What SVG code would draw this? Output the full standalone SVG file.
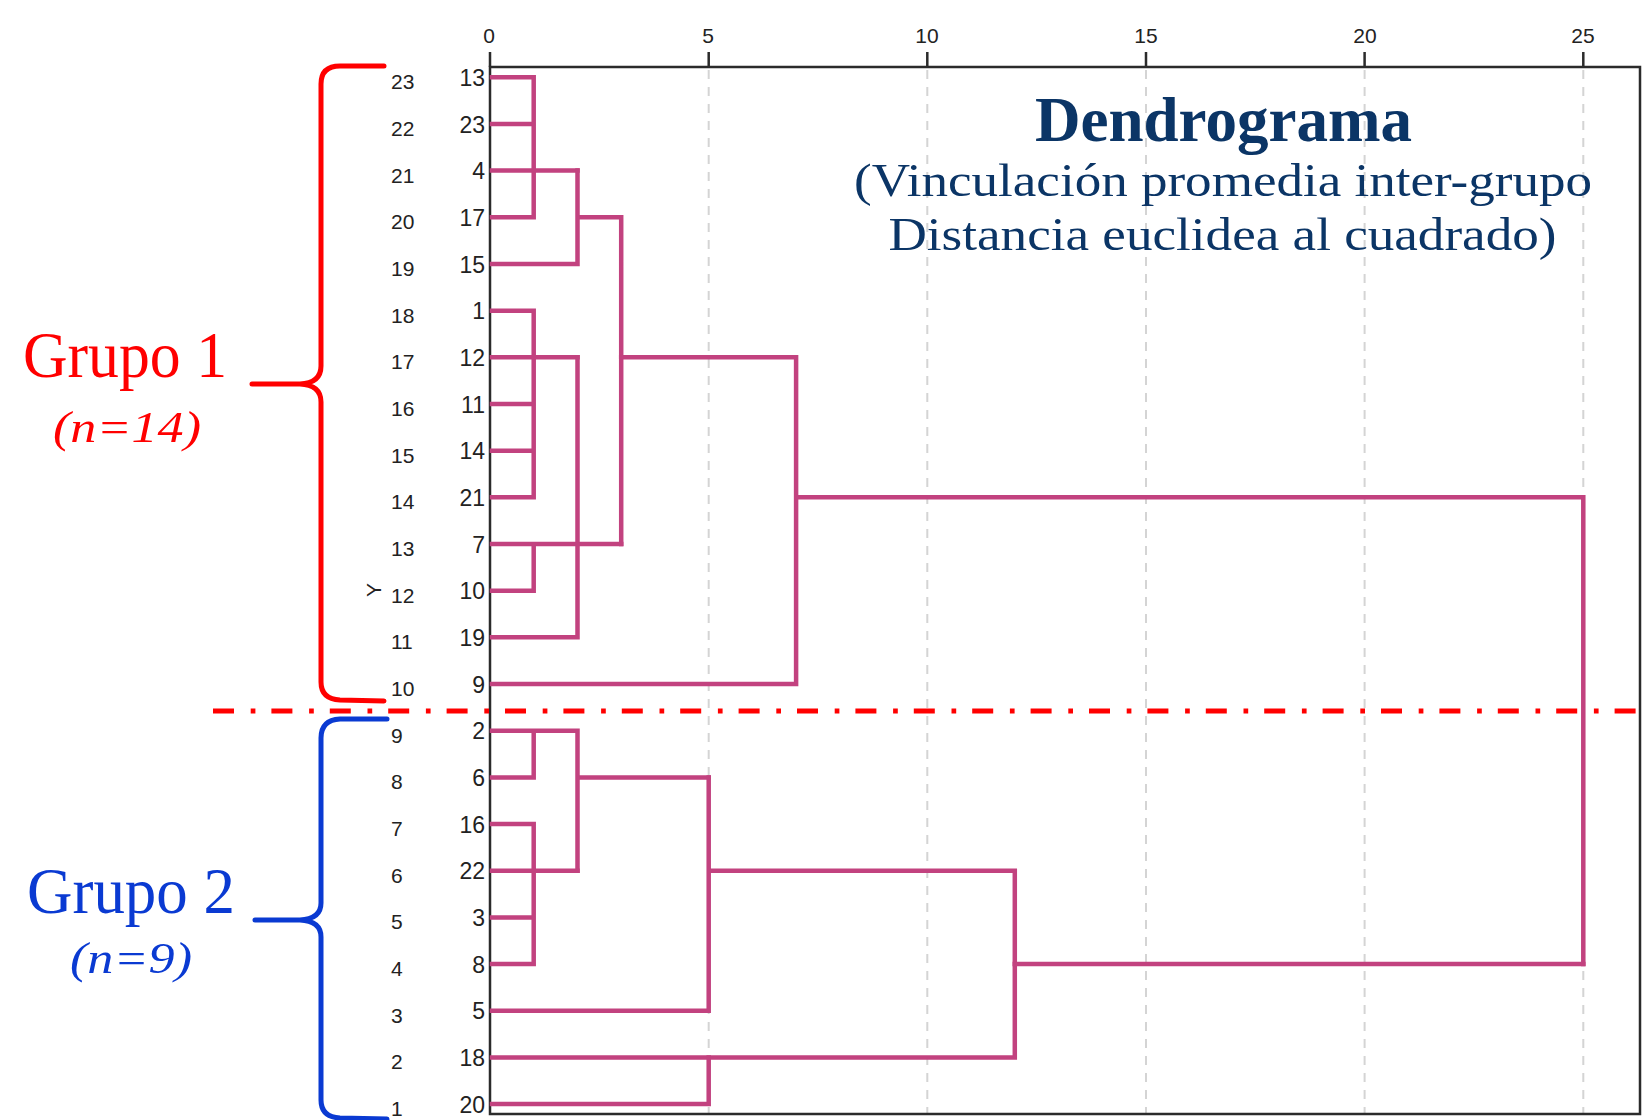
<svg xmlns="http://www.w3.org/2000/svg" width="1642" height="1120" viewBox="0 0 1642 1120">
<style>
.tick{font-family:"Liberation Sans",Arial,sans-serif;font-size:21px;fill:#222;text-anchor:middle}
.case{font-family:"Liberation Sans",Arial,sans-serif;font-size:23px;fill:#222;text-anchor:end}
.ord{font-family:"Liberation Sans",Arial,sans-serif;font-size:21px;fill:#222}
.grid{stroke:#d4d4d4;stroke-width:2;stroke-dasharray:9 8;fill:none}
.ax{stroke:#2b2b2b;stroke-width:2.5;fill:none}
.dg{stroke:#c2427f;stroke-width:4.5;fill:none;stroke-linecap:square;stroke-linejoin:miter}
.ttl{font-family:"Liberation Serif","Times New Roman",serif;fill:#0b3566;text-anchor:start}
.brace{fill:none;stroke-width:5;stroke-linecap:round;stroke-linejoin:round}
.grp{font-family:"Liberation Serif","Times New Roman",serif}
</style>
<rect width="1642" height="1120" fill="#ffffff"/>

<g id="grid">
<line class="grid" x1="708.7" y1="70" x2="708.7" y2="1113"/>
<line class="grid" x1="927.3" y1="70" x2="927.3" y2="1113"/>
<line class="grid" x1="1146" y1="70" x2="1146" y2="1113"/>
<line class="grid" x1="1364.6" y1="70" x2="1364.6" y2="1113"/>
<line class="grid" x1="1583.3" y1="70" x2="1583.3" y2="1113"/>
</g>

<g id="axis">
<path class="ax" d="M490,67 H1640 V1114 H490 Z"/>
<path class="ax" d="M490,52 V67 M708.7,52 V67 M927.3,52 V67 M1146,52 V67 M1364.6,52 V67 M1583.3,52 V67"/>
<text class="tick" x="489" y="43">0</text>
<text class="tick" x="708" y="43">5</text>
<text class="tick" x="927" y="43">10</text>
<text class="tick" x="1146" y="43">15</text>
<text class="tick" x="1365" y="43">20</text>
<text class="tick" x="1583" y="43">25</text>
<text class="ord" transform="translate(381,590) rotate(-90)" text-anchor="middle" font-size="23">Y</text>
</g>

<g id="title">
<text class="ttl" x="1035" y="141" font-size="63" font-weight="bold" textLength="377" lengthAdjust="spacingAndGlyphs">Dendrograma</text>
<text class="ttl" x="854" y="196" font-size="46" textLength="738" lengthAdjust="spacingAndGlyphs">(Vinculación promedia inter-grupo</text>
<text class="ttl" x="888.5" y="250" font-size="46" textLength="668" lengthAdjust="spacingAndGlyphs">Distancia euclidea al cuadrado)</text>
</g>

<g id="leaves">
<g id="leaf-13"><text class="ord" x="391" y="89">23</text><text class="case" x="485" y="86">13</text></g>
<g id="leaf-23"><text class="ord" x="391" y="136">22</text><text class="case" x="485" y="132.7">23</text></g>
<g id="leaf-4"><text class="ord" x="391" y="182.6">21</text><text class="case" x="485" y="179.3">4</text></g>
<g id="leaf-17"><text class="ord" x="391" y="229.3">20</text><text class="case" x="485" y="226">17</text></g>
<g id="leaf-15"><text class="ord" x="391" y="276">19</text><text class="case" x="485" y="272.7">15</text></g>
<g id="leaf-1"><text class="ord" x="391" y="322.7">18</text><text class="case" x="485" y="319.4">1</text></g>
<g id="leaf-12"><text class="ord" x="391" y="369.3">17</text><text class="case" x="485" y="366">12</text></g>
<g id="leaf-11"><text class="ord" x="391" y="416">16</text><text class="case" x="485" y="412.7">11</text></g>
<g id="leaf-14"><text class="ord" x="391" y="462.7">15</text><text class="case" x="485" y="459.4">14</text></g>
<g id="leaf-21"><text class="ord" x="391" y="509.3">14</text><text class="case" x="485" y="506">21</text></g>
<g id="leaf-7"><text class="ord" x="391" y="556">13</text><text class="case" x="485" y="552.7">7</text></g>
<g id="leaf-10"><text class="ord" x="391" y="602.7">12</text><text class="case" x="485" y="599.4">10</text></g>
<g id="leaf-19"><text class="ord" x="391" y="649.3">11</text><text class="case" x="485" y="646">19</text></g>
<g id="leaf-9"><text class="ord" x="391" y="696">10</text><text class="case" x="485" y="692.7">9</text></g>
<g id="leaf-2"><text class="ord" x="391" y="742.7">9</text><text class="case" x="485" y="739.4">2</text></g>
<g id="leaf-6"><text class="ord" x="391" y="789.4">8</text><text class="case" x="485" y="786.1">6</text></g>
<g id="leaf-16"><text class="ord" x="391" y="836">7</text><text class="case" x="485" y="832.7">16</text></g>
<g id="leaf-22"><text class="ord" x="391" y="882.7">6</text><text class="case" x="485" y="879.4">22</text></g>
<g id="leaf-3"><text class="ord" x="391" y="929.4">5</text><text class="case" x="485" y="926.1">3</text></g>
<g id="leaf-8"><text class="ord" x="391" y="976">4</text><text class="case" x="485" y="972.7">8</text></g>
<g id="leaf-5"><text class="ord" x="391" y="1022.7">3</text><text class="case" x="485" y="1019.4">5</text></g>
<g id="leaf-18"><text class="ord" x="391" y="1069.4">2</text><text class="case" x="485" y="1066.1">18</text></g>
<g id="leaf-20"><text class="ord" x="391" y="1116">1</text><text class="case" x="485" y="1112.7">20</text></g>
</g>

<g id="connectors">
<path class="dg" d="M492,77.3 H533.7 M492,124 H533.7 M492,170.6 H577.5 M492,217.3 H533.7 M533.7,77.3 V217.3"/>
<path class="dg" d="M492,264 H577.5 M577.5,170.6 V264 M577.5,217.3 H621.2 M621.2,217.3 V544"/>
<path class="dg" d="M492,310.7 H533.7 M492,357.3 H577.5 M492,404 H533.7 M492,450.7 H533.7 M492,497.3 H533.7 M533.7,310.7 V497.3"/>
<path class="dg" d="M577.5,357.3 V637.3 M492,637.3 H577.5 M492,544 H621.2 M492,590.7 H533.7 M533.7,544 V590.7"/>
<path class="dg" d="M621.2,357.3 H796.1 M796.1,357.3 V684 M492,684 H796.1 M796.1,497.3 H1583.3 M1583.3,497.3 V964"/>
<path class="dg" d="M492,730.7 H577.5 M492,777.4 H533.7 M533.7,730.7 V777.4 M577.5,730.7 V870.7 M577.5,777.4 H708.7"/>
<path class="dg" d="M492,824 H533.7 M492,870.7 H577.5 M492,917.4 H533.7 M492,964 H533.7 M533.7,824 V964"/>
<path class="dg" d="M708.7,777.4 V1010.7 M492,1010.7 H708.7 M708.7,870.7 H1014.8 M1014.8,870.7 V1057.4 M492,1057.4 H1014.8"/>
<path class="dg" d="M492,1104 H708.7 M708.7,1057.4 V1104 M1014.8,964 H1583.3"/>
</g>

<g id="cut-line">
<line x1="213" y1="711" x2="1642" y2="711" stroke="#ff0000" stroke-width="5" stroke-dasharray="21 16.7 4.7 16"/>
</g>

<g id="grupo1">
<path class="brace" stroke="#ff0000" d="M384,66 L340,66 Q321,66 321,84 L321,366 Q321,383 300,384 L252,384 L300,384 Q321,385 321,402 L321,682 Q321,699 340,700 L384,701"/>
<text class="grp" x="23" y="377" font-size="65" fill="#ff0000" textLength="204" lengthAdjust="spacingAndGlyphs">Grupo 1</text>
<text class="grp" x="53" y="442" font-size="45" font-style="italic" fill="#ff0000" textLength="148" lengthAdjust="spacingAndGlyphs">(n=14)</text>
</g>

<g id="grupo2">
<path class="brace" stroke="#0a3ad2" d="M387,719 L340,719 Q321,720 321,738 L321,903 Q321,919 300,920 L255,920 L300,920 Q321,921 321,937 L321,1100 Q321,1117 340,1118 L387,1119"/>
<text class="grp" x="27" y="913" font-size="65" fill="#0a3ad2" textLength="208" lengthAdjust="spacingAndGlyphs">Grupo 2</text>
<text class="grp" x="70" y="973" font-size="45" font-style="italic" fill="#0a3ad2" textLength="122" lengthAdjust="spacingAndGlyphs">(n=9)</text>
</g>
</svg>
